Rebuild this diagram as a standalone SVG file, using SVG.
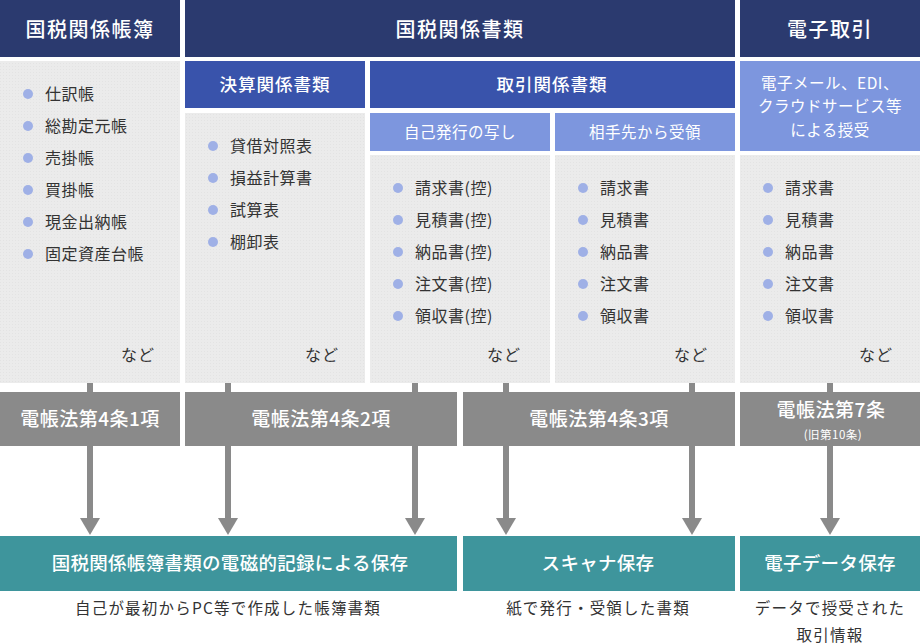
<svg xmlns="http://www.w3.org/2000/svg" width="920" height="644" viewBox="0 0 920 644">
<style>
text{font-family:"Noto Sans CJK JP","Noto Sans",sans-serif;}
.hd{fill:#2b3a6f;}
.mb{fill:#3953ab;}
.lb{fill:#7d96de;}
.gy{fill:url(#dots);}
.law{fill:#8a8a8a;}
.tl{fill:#3e959c;}
.wt{fill:#ffffff;text-anchor:middle;}
.h1{font-size:20px;letter-spacing:1.5px;font-weight:500;}
.h2{font-size:17.5px;letter-spacing:1px;font-weight:500;}
.h3{font-size:15.5px;letter-spacing:0.5px;}
.it{fill:#333333;font-size:16px;letter-spacing:0.5px;}
.nd{fill:#333333;font-size:16px;text-anchor:end;letter-spacing:1px;}
.lw{font-size:19px;letter-spacing:0.5px;font-weight:500;}
.sv{font-size:18.5px;letter-spacing:0.3px;font-weight:500;}
.ft{fill:#333333;font-size:15.5px;letter-spacing:1.2px;text-anchor:middle;}
.bl{fill:#9fb0e6;}
.cn{stroke:#8a8a8a;stroke-width:6;fill:none;marker-end:url(#ah);}
</style>
<defs>
<pattern id="dots" width="3" height="3" patternUnits="userSpaceOnUse">
<rect width="3" height="3" fill="#ebebeb"/>
<rect width="1" height="1" fill="#e3e3e3"/>
</pattern>
<marker id="ah" viewBox="0 -10 17 20" refX="0" refY="0" markerWidth="17" markerHeight="20" markerUnits="userSpaceOnUse" orient="auto">
<path d="M0,-10 L17,0 L0,10 Z" fill="#8a8a8a"/>
</marker>
</defs>
<rect width="920" height="644" fill="#ffffff"/>

<g id="connectors">
<line class="cn" x1="90" y1="380" x2="90" y2="518"/>
<line class="cn" x1="228" y1="380" x2="228" y2="518"/>
<line class="cn" x1="415" y1="380" x2="415" y2="518"/>
<line class="cn" x1="506" y1="380" x2="506" y2="518"/>
<line class="cn" x1="692" y1="380" x2="692" y2="518"/>
<line class="cn" x1="830" y1="380" x2="830" y2="518"/>
</g>

<g id="hdr-books">
<rect class="hd" x="0" y="0" width="180" height="57"/>
<text class="wt h1" x="90" y="37">国税関係帳簿</text>
</g>
<g id="hdr-docs">
<rect class="hd" x="185" y="0" width="550" height="57"/>
<text class="wt h1" x="460" y="37">国税関係書類</text>
</g>
<g id="hdr-etrade">
<rect class="hd" x="740" y="0" width="180" height="57"/>
<text class="wt h1" x="830" y="37">電子取引</text>
</g>

<g id="sub-kessan">
<rect class="mb" x="185" y="61" width="180" height="47"/>
<text class="wt h2" x="275" y="91">決算関係書類</text>
</g>
<g id="sub-torihiki">
<rect class="mb" x="370" y="61" width="365" height="47"/>
<text class="wt h2" x="552" y="91">取引関係書類</text>
</g>
<g id="sub-self">
<rect class="lb" x="370" y="113" width="180" height="38"/>
<text class="wt h3" x="460" y="138">自己発行の写し</text>
</g>
<g id="sub-partner">
<rect class="lb" x="555" y="113" width="180" height="38"/>
<text class="wt h3" x="645" y="138">相手先から受領</text>
</g>
<g id="sub-email">
<rect class="lb" x="740" y="61" width="180" height="90"/>
<text class="wt h3" x="830" y="89">電子メール、EDI、</text>
<text class="wt h3" x="830" y="112">クラウドサービス等</text>
<text class="wt h3" x="830" y="136">による授受</text>
</g>

<g id="list-books">
<rect class="gy" x="0" y="61" width="180" height="322"/>
<circle class="bl" cx="28" cy="94" r="5"/><text class="it" x="45" y="100">仕訳帳</text>
<circle class="bl" cx="28" cy="126" r="5"/><text class="it" x="45" y="132">総勘定元帳</text>
<circle class="bl" cx="28" cy="158" r="5"/><text class="it" x="45" y="164">売掛帳</text>
<circle class="bl" cx="28" cy="190" r="5"/><text class="it" x="45" y="196">買掛帳</text>
<circle class="bl" cx="28" cy="222" r="5"/><text class="it" x="45" y="228">現金出納帳</text>
<circle class="bl" cx="28" cy="254" r="5"/><text class="it" x="45" y="260">固定資産台帳</text>
<text class="nd" x="155" y="361">など</text>
</g>
<g id="list-kessan">
<rect class="gy" x="185" y="113" width="180" height="270"/>
<circle class="bl" cx="213" cy="146" r="5"/><text class="it" x="230" y="152">貸借対照表</text>
<circle class="bl" cx="213" cy="178" r="5"/><text class="it" x="230" y="184">損益計算書</text>
<circle class="bl" cx="213" cy="210" r="5"/><text class="it" x="230" y="216">試算表</text>
<circle class="bl" cx="213" cy="242" r="5"/><text class="it" x="230" y="248">棚卸表</text>
<text class="nd" x="339" y="361">など</text>
</g>
<g id="list-self">
<rect class="gy" x="370" y="155" width="180" height="228"/>
<circle class="bl" cx="398" cy="188" r="5"/><text class="it" x="415" y="194">請求書(控)</text>
<circle class="bl" cx="398" cy="220" r="5"/><text class="it" x="415" y="226">見積書(控)</text>
<circle class="bl" cx="398" cy="252" r="5"/><text class="it" x="415" y="258">納品書(控)</text>
<circle class="bl" cx="398" cy="284" r="5"/><text class="it" x="415" y="290">注文書(控)</text>
<circle class="bl" cx="398" cy="316" r="5"/><text class="it" x="415" y="322">領収書(控)</text>
<text class="nd" x="521" y="361">など</text>
</g>
<g id="list-partner">
<rect class="gy" x="555" y="155" width="180" height="228"/>
<circle class="bl" cx="583" cy="188" r="5"/><text class="it" x="600" y="194">請求書</text>
<circle class="bl" cx="583" cy="220" r="5"/><text class="it" x="600" y="226">見積書</text>
<circle class="bl" cx="583" cy="252" r="5"/><text class="it" x="600" y="258">納品書</text>
<circle class="bl" cx="583" cy="284" r="5"/><text class="it" x="600" y="290">注文書</text>
<circle class="bl" cx="583" cy="316" r="5"/><text class="it" x="600" y="322">領収書</text>
<text class="nd" x="708" y="361">など</text>
</g>
<g id="list-email">
<rect class="gy" x="740" y="155" width="180" height="228"/>
<circle class="bl" cx="768" cy="188" r="5"/><text class="it" x="785" y="194">請求書</text>
<circle class="bl" cx="768" cy="220" r="5"/><text class="it" x="785" y="226">見積書</text>
<circle class="bl" cx="768" cy="252" r="5"/><text class="it" x="785" y="258">納品書</text>
<circle class="bl" cx="768" cy="284" r="5"/><text class="it" x="785" y="290">注文書</text>
<circle class="bl" cx="768" cy="316" r="5"/><text class="it" x="785" y="322">領収書</text>
<text class="nd" x="893" y="361">など</text>
</g>

<g id="law-1">
<rect class="law" x="0" y="392" width="180" height="54"/>
<text class="wt lw" x="90" y="426">電帳法第4条1項</text>
</g>
<g id="law-2">
<rect class="law" x="185" y="392" width="272" height="54"/>
<text class="wt lw" x="321" y="426">電帳法第4条2項</text>
</g>
<g id="law-3">
<rect class="law" x="463" y="392" width="272" height="54"/>
<text class="wt lw" x="599" y="426">電帳法第4条3項</text>
</g>
<g id="law-7">
<rect class="law" x="740" y="392" width="180" height="54"/>
<text class="wt lw" x="831" y="417" font-size="18">電帳法第7条</text>
<text class="wt" x="833" y="439" font-size="11.5" letter-spacing="0.5">(旧第10条)</text>
</g>

<g id="save-electronic">
<rect class="tl" x="0" y="536" width="457" height="55"/>
<text class="wt sv" x="230" y="570">国税関係帳簿書類の電磁的記録による保存</text>
</g>
<g id="save-scan">
<rect class="tl" x="463" y="536" width="272" height="55"/>
<text class="wt sv" x="598" y="570">スキャナ保存</text>
</g>
<g id="save-data">
<rect class="tl" x="740" y="536" width="180" height="55"/>
<text class="wt sv" x="830" y="570">電子データ保存</text>
</g>

<g id="notes">
<text class="ft" x="228" y="614">自己が最初からPC等で作成した帳簿書類</text>
<text class="ft" x="598" y="614">紙で発行・受領した書類</text>
<text class="ft" x="830" y="614">データで授受された</text>
<text class="ft" x="830" y="641">取引情報</text>
</g>
</svg>
